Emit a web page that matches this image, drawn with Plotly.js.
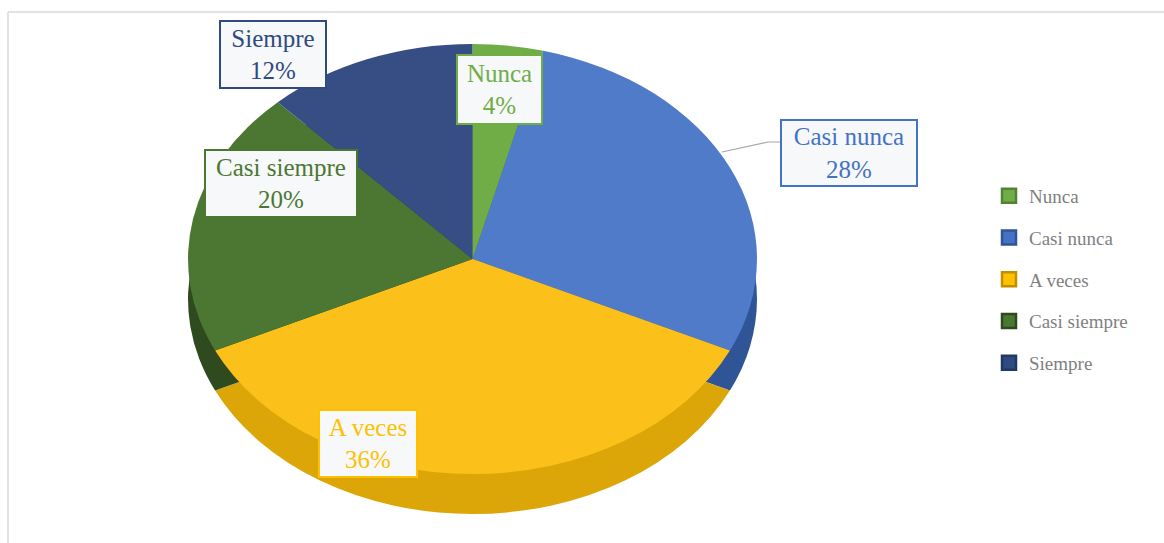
<!DOCTYPE html>
<html><head><meta charset="utf-8">
<script src="https://cdn.plot.ly/plotly-3.0.1.min.js"></script>
<style>html,body{margin:0;padding:0;background:#fff}#chart{width:1164px;height:543px}</style>
</head><body><div id="chart"></div>
<script>
// ---- data ----
const categories = ['Nunca', 'Casi nunca', 'A veces', 'Casi siempre', 'Siempre'];
const percentages = [4, 28, 36, 20, 12];
const topColors = ['#70AD47', '#4F7BC8', '#FCC01A', '#4C7733', '#374E84'];
const sideColors = ['#4E8030', '#2F5597', '#DCA608', '#2F4A1E', '#1F3864'];
const legendFill = ['#70AD47', '#4472C4', '#FFC000', '#4C7733', '#2F4A7F'];
const legendEdge = ['#548235', '#2F5597', '#BF9000', '#2F4A1E', '#1F3864'];
const labelColors = ['#70AD47', '#4472C4', '#FFC000', '#4C7733', '#2F4A7F'];

// ---- layout helpers (pixel positions of label boxes) ----
const W = 1164, H = 543;
const labelBoxes = [
  {cx: 499, cy: 89, w: 87, h: 71},
  {cx: 849, cy: 153, w: 138, h: 68},
  {cx: 368, cy: 443, w: 100, h: 69},
  {cx: 281, cy: 183, w: 154, h: 69},
  {cx: 273, cy: 55, w: 108, h: 69}
];
const px = x => x / W, py = y => 1 - y / H;
const FONT = 'Liberation Serif';

const pieBase = {
  type: 'pie', labels: categories, values: percentages, sort: false,
  direction: 'clockwise', rotation: 0, textinfo: 'none', hoverinfo: 'none',
  domain: {x: [0.2, 0.6], y: [0.1, 0.9]}
};
const data = [
  Object.assign({}, pieBase, {marker: {colors: sideColors, line: {width: 0}}, showlegend: false}),
  Object.assign({}, pieBase, {marker: {colors: topColors, line: {width: 0}}, showlegend: false})
];
categories.forEach((c, i) => {
  data.push({
    type: 'scatter', mode: 'markers', x: [null], y: [null], name: c,
    legendgroup: 'g' + i, showlegend: true, hoverinfo: 'none',
    marker: {symbol: 'square', size: 14, color: legendFill[i], line: {color: legendEdge[i], width: 2.5}}
  });
});

const annotations = categories.map((c, i) => {
  const b = labelBoxes[i];
  return {
    xref: 'paper', yref: 'paper', x: px(b.cx), y: py(b.cy), xanchor: 'center', yanchor: 'middle',
    text: c + '<br>' + percentages[i] + '%', showarrow: false,
    font: {family: FONT, size: 25, color: labelColors[i]},
    bgcolor: '#F6F8FA', bordercolor: labelColors[i], borderwidth: 2, borderpad: 0,
    width: b.w - 4, height: b.h - 4, align: 'center', valign: 'middle'
  };
});

const layout = {
  width: W, height: H, margin: {l: 0, r: 0, t: 0, b: 0},
  font: {family: FONT},
  paper_bgcolor: '#FFFFFF', plot_bgcolor: 'rgba(0,0,0,0)',
  xaxis: {visible: false, range: [0, 1]}, yaxis: {visible: false, range: [0, 1]},
  showlegend: true,
  legend: {
    x: px(989), y: py(177), xanchor: 'left', yanchor: 'top',
    font: {family: FONT, size: 19, color: '#7F7F7F'},
    tracegroupgap: 14, bgcolor: 'rgba(0,0,0,0)', itemclick: false
  },
  annotations: annotations,
  shapes: [
    {type: 'line', xref: 'paper', yref: 'paper', x0: px(8), x1: 1, y0: py(12), y1: py(12), line: {color: '#D9D9D9', width: 1.5}},
    {type: 'line', xref: 'paper', yref: 'paper', x0: px(8), x1: px(8), y0: py(12), y1: 0, line: {color: '#D9D9D9', width: 1.5}},
    {type: 'path', xref: 'paper', yref: 'paper',
     path: `M ${px(722)} ${py(152)} L ${px(768)} ${py(142)} L ${px(780)} ${py(142)}`,
     line: {color: '#A6A6A6', width: 1.2}}
  ]
};

Plotly.newPlot('chart', data, layout, {staticPlot: true, displayModeBar: false}).then(gd => {
  const targets = [
    {x0: 188, y0: 84, x1: 757, y1: 514},
    {x0: 188, y0: 44, x1: 757, y1: 474}
  ];
  const traces = gd.querySelectorAll('.pielayer .trace');
  traces.forEach((g, i) => {
    const t = targets[i]; if (!t) return;
    const b = g.getBBox();
    const sx = (t.x1 - t.x0) / b.width, sy = (t.y1 - t.y0) / b.height;
    g.setAttribute('transform', `translate(${t.x0 - b.x * sx},${t.y0 - b.y * sy}) scale(${sx},${sy})`);
  });
});
</script></body></html>
